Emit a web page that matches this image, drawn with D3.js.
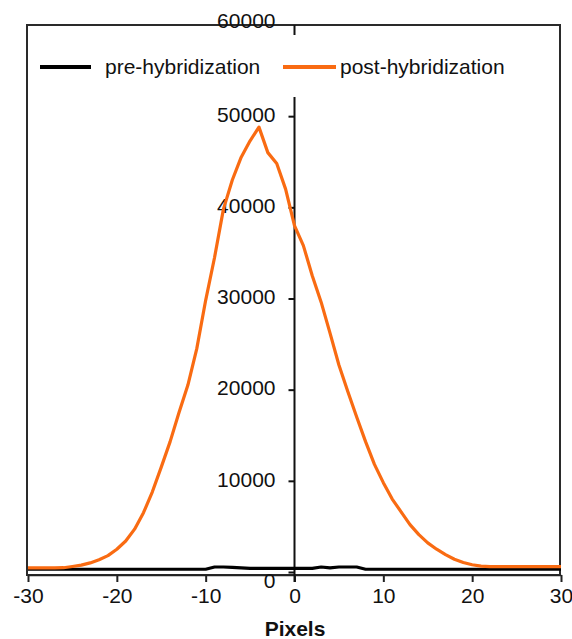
<!DOCTYPE html>
<html>
<head>
<meta charset="utf-8">
<script src="https://cdn.jsdelivr.net/npm/d3@7"></script>
<style>
  body { margin: 0; background: #fff; }
  text { font-family: "Liberation Sans", Arial, sans-serif; fill: #111; }
</style>
</head>
<body>
<div id="chart"></div>
<script>
// données
const xValues = d3.range(-30, 31);
const postValues = [450, 450, 450, 450, 470, 600, 750, 1000, 1350, 1800,
  2500, 3400, 4700, 6500, 8800, 11500, 14300, 17500, 20500, 24500,
  29800, 34500, 39800, 43000, 45500, 47300, 48800, 46000, 44800, 42000,
  38000, 35800, 32500, 29600, 26200, 22700, 19800, 17000, 14300, 11800,
  9800, 8000, 6600, 5200, 4100, 3200, 2500, 1900, 1400, 1050,
  800, 650, 580, 580, 580, 580, 580, 580, 580, 580, 580];
const preValues = [300, 300, 300, 300, 300, 300, 300, 300, 300, 300,
  300, 300, 300, 300, 300, 300, 300, 300, 300, 300,
  300, 550, 550, 500, 450, 400, 400, 400, 400, 400,
  400, 400, 400, 550, 450, 550, 550, 550, 300, 300,
  300, 300, 300, 300, 300, 300, 300, 300, 300, 300,
  300, 300, 300, 300, 300, 300, 300, 300, 300, 300, 300];
const xTicks = [-30, -20, -10, 0, 10, 20, 30];
const yTicks = [0, 10000, 20000, 30000, 40000, 50000, 60000];
const seriesNames = ["pre-hybridization", "post-hybridization"];
const seriesColors = ["#000000", "#f96b12"];

const width = 572, height = 639;
const x = d3.scaleLinear().domain([-30, 30]).range([28, 561]);
const y = d3.scaleLinear().domain([0, 60000]).range([572, 25]);

const svg = d3.select("#chart").append("svg")
  .attr("width", width).attr("height", height);

// cadre
svg.append("rect")
  .attr("x", 27).attr("y", 25).attr("width", 533).attr("height", 550)
  .attr("fill", "none").attr("stroke", "#2a2a2a").attr("stroke-width", 2);

// axe X
const xAxis = svg.append("g")
  .attr("transform", "translate(0,575)")
  .call(d3.axisBottom(x).tickValues(xTicks).tickFormat(d => String(d))
    .tickSize(7).tickSizeOuter(0).tickPadding(6));
xAxis.select(".domain").attr("stroke", "#222").attr("stroke-width", 1.5);
xAxis.selectAll(".tick line").attr("stroke", "#222").attr("stroke-width", 2);
xAxis.selectAll("text").attr("font-size", 21).attr("fill", "#111");

// axe Y au milieu
const yAxis = svg.append("g")
  .attr("transform", "translate(" + x(0) + ",0)")
  .call(d3.axisLeft(y).tickValues(yTicks).tickFormat(d => String(d))
    .tickSize(6).tickSizeOuter(0).tickPadding(13));
yAxis.select(".domain").attr("d", "M0,25V582").attr("stroke", "#111").attr("stroke-width", 2);
yAxis.selectAll(".tick line").attr("stroke", "#111").attr("stroke-width", 2);
yAxis.selectAll("text").attr("font-size", 21).attr("fill", "#111")
  .attr("dy", d => d === 0 ? "0.72em" : d === 60000 ? "0.1em" : "0.25em");
yAxis.selectAll(".tick").filter(d => d === 60000).select("line").remove();

// courbes
const line = d3.line().x(d => x(d.x)).y(d => y(d.v));
const series = [preValues, postValues];
series.forEach((vals, i) => {
  const pts = xValues.map((xv, j) => ({ x: xv, v: vals[j] }));
  svg.append("path")
    .datum(pts)
    .attr("d", line)
    .attr("fill", "none")
    .attr("stroke", seriesColors[i])
    .attr("stroke-width", 3.2)
    .attr("stroke-linejoin", "round");
});

// légende (fond blanc qui cache l'axe)
const legend = svg.append("g");
legend.append("rect")
  .attr("x", 32).attr("y", 35).attr("width", 520).attr("height", 62)
  .attr("fill", "#fff");
const legendX = [[40, 91, 105], [283, 336, 340]];
seriesNames.forEach((name, i) => {
  legend.append("line")
    .attr("x1", legendX[i][0]).attr("x2", legendX[i][1])
    .attr("y1", 67).attr("y2", 67)
    .attr("stroke", seriesColors[i]).attr("stroke-width", 4);
  legend.append("text")
    .attr("x", legendX[i][2]).attr("y", 74)
    .attr("font-size", 21)
    .text(name);
});

// titre de l'axe X
svg.append("text")
  .attr("x", 295).attr("y", 636)
  .attr("text-anchor", "middle")
  .attr("font-size", 21).attr("font-weight", "bold")
  .text("Pixels");
</script>
</body>
</html>
